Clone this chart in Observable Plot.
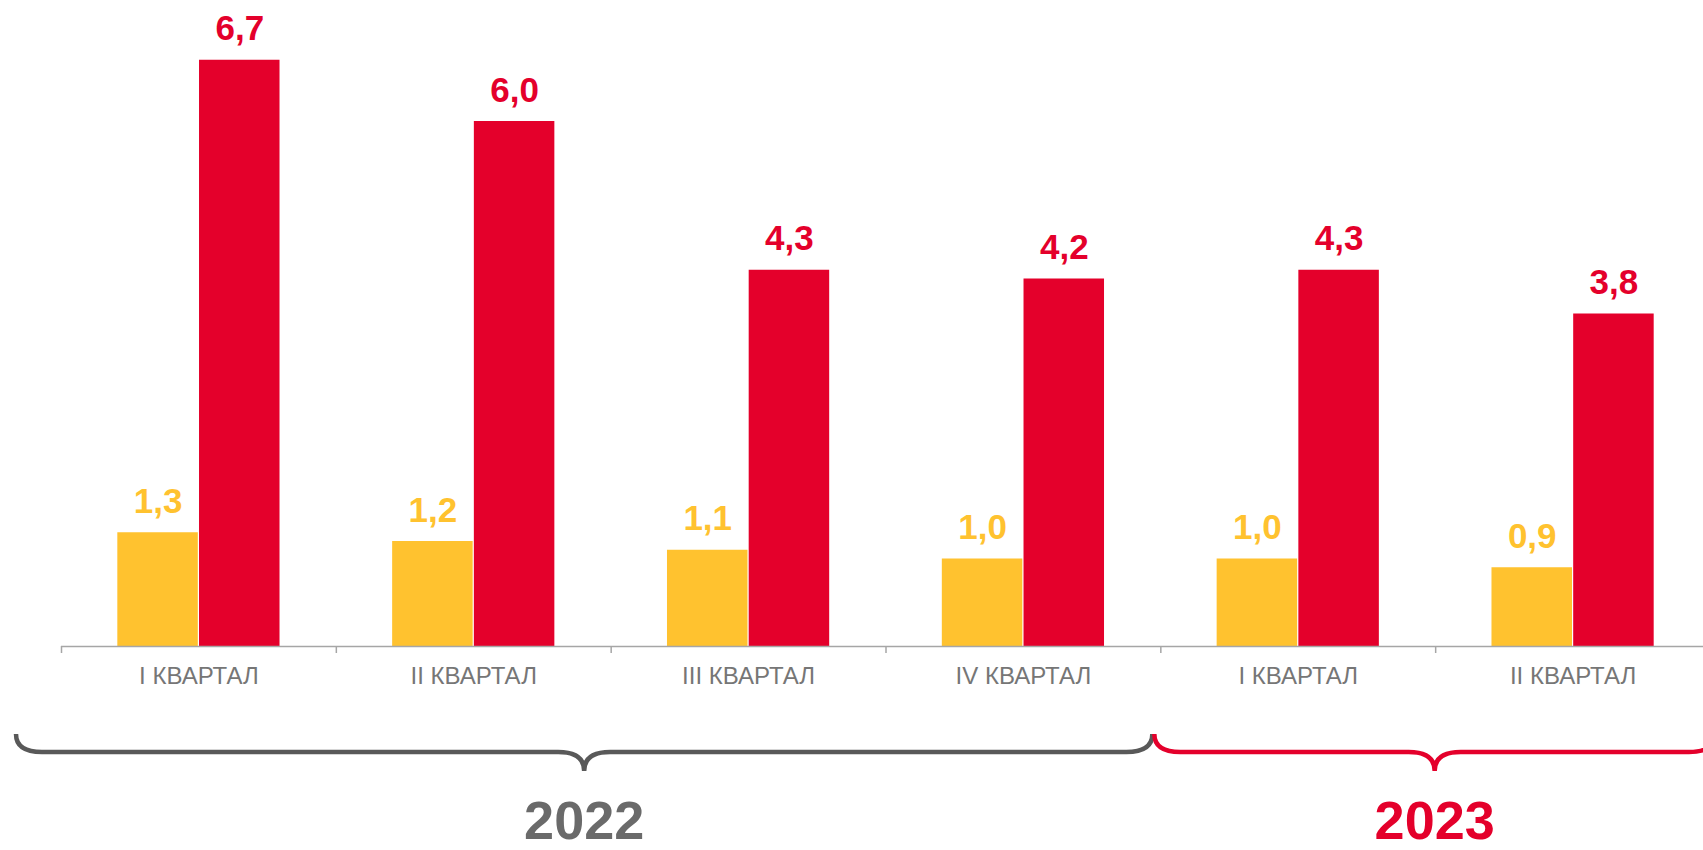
<!DOCTYPE html>
<html>
<head>
<meta charset="utf-8">
<script src="https://cdn.jsdelivr.net/npm/d3@7"></script>
<script src="https://cdn.jsdelivr.net/npm/@observablehq/plot@0.6"></script>
<style>
  html, body { margin: 0; padding: 0; background: #ffffff; overflow: hidden; }
  #chart { width: 1703px; height: 850px; overflow: hidden; }
  #chart svg { overflow: hidden; }
</style>
</head>
<body>
<div id="chart"></div>
<script>
// ---- Data ----
const quarterLabels = ["I КВАРТАЛ", "II КВАРТАЛ", "III КВАРТАЛ", "IV КВАРТАЛ", "I КВАРТАЛ", "II КВАРТАЛ"];
const quarterYears  = ["2022", "2022", "2022", "2022", "2023", "2023"];
const seriesYellow  = [1.3, 1.2, 1.1, 1.0, 1.0, 0.9];
const seriesRed     = [6.7, 6.0, 4.3, 4.2, 4.3, 3.8];
const yearLabels    = ["2022", "2023"];

// ---- Styles ----
const RED = "#E4002B";
const YELLOW = "#FFC22F";
const AXIS = "#a6a6a6";
const LABEL_GRAY = "#767676";
const yearBraceColor = {"2022": "#595959", "2023": RED};
const yearTextColor  = {"2022": "#6a6a6a", "2023": RED};
const FONT = "'Liberation Sans', Arial, Helvetica, sans-serif";

// ---- Layout ----
const W = 1703, H = 850;
const X0 = 61, X1 = 1710;             // band range (last band slightly clipped at right)
const BW = (X1 - X0) / quarterLabels.length;
const HALF = BW / 2;
const BAR = 80.5, GAP = 0.6;

const keys = quarterLabels.map((q, i) => `${quarterYears[i]}|${q}`);
const rows = keys.map((k, i) => ({k, q: quarterLabels[i], yr: quarterYears[i], a: seriesYellow[i], b: seriesRed[i]}));
const fmt = v => d3.format(".1f")(v).replace(".", ",");

function braces(index, scales) {
  const sx = scales.x, sy = scales.y;
  const bw = typeof sx.bandwidth === "function" ? sx.bandwidth() : BW;
  const isStart = Math.abs(sx(keys[0]) - X0) < bw / 4;
  const start = k => isStart ? sx(k) : sx(k) - bw / 2;
  const base = sy(0);
  const yTop = base + 88, yLine = base + 106, yTip = base + 125;
  const ext = {"2022": [-45, -8], "2023": [-6, 5]};
  const g = d3.create("svg:g");
  for (const yr of yearLabels) {
    const ks = keys.filter((k, i) => quarterYears[i] === yr);
    const x0 = start(ks[0]) + ext[yr][0];
    const x1 = start(ks[ks.length - 1]) + bw + ext[yr][1];
    const xm = (x0 + x1) / 2;
    const r = 26, rm = 26;
    const d = `M${x0},${yTop} Q${x0},${yLine} ${x0 + r},${yLine} L${xm - rm},${yLine} Q${xm},${yLine} ${xm},${yTip}` +
              ` M${xm},${yTip} Q${xm},${yLine} ${xm + rm},${yLine} L${x1 - r},${yLine} Q${x1},${yLine} ${x1},${yTop}`;
    g.append("path").attr("d", d).attr("fill", "none")
      .attr("stroke", yearBraceColor[yr]).attr("stroke-width", 4.5).attr("stroke-linecap", "butt");
    g.append("text").attr("x", xm).attr("y", base + 193)
      .attr("text-anchor", "middle").attr("fill", yearTextColor[yr])
      .attr("font-family", FONT).attr("font-weight", "bold").attr("font-size", 54)
      .text(yr);
  }
  return g.node();
}

const chart = Plot.plot({
  width: W,
  height: H,
  marginLeft: X0,
  marginRight: 0,
  marginTop: 33.5,
  marginBottom: 204,
  style: {fontFamily: FONT, background: "#ffffff", overflow: "hidden"},
  x: {domain: keys, range: [X0, X1], padding: 0, round: false},
  y: {domain: [0, 7], axis: null},
  marks: [
    Plot.barY(rows, {x: "k", y: "a", fill: YELLOW,
      insetLeft: HALF - BAR - GAP, insetRight: BW - (HALF - GAP)}),
    Plot.barY(rows, {x: "k", y: "b", fill: RED,
      insetLeft: HALF + GAP, insetRight: BW - (HALF + GAP + BAR)}),
    Plot.ruleY([0], {stroke: AXIS, strokeWidth: 1.5}),
    Plot.axisX({tickSize: 7, tickFormat: () => "", dx: -HALF, color: AXIS, strokeWidth: 1.5, label: null}),
    Plot.axisX({tickSize: 0, tickPadding: 20, fontSize: 24, color: LABEL_GRAY,
      tickFormat: k => k.split("|")[1], label: null}),
    Plot.text(rows, {x: "k", y: "a", text: d => fmt(d.a), dx: -(GAP + BAR / 2), dy: -20,
      lineAnchor: "bottom", fill: YELLOW, fontSize: 35, fontWeight: "bold"}),
    Plot.text(rows, {x: "k", y: "b", text: d => fmt(d.b), dx: GAP + BAR / 2, dy: -20,
      lineAnchor: "bottom", fill: RED, fontSize: 35, fontWeight: "bold"}),
    braces
  ]
});
document.getElementById("chart").appendChild(chart);
</script>
</body>
</html>
